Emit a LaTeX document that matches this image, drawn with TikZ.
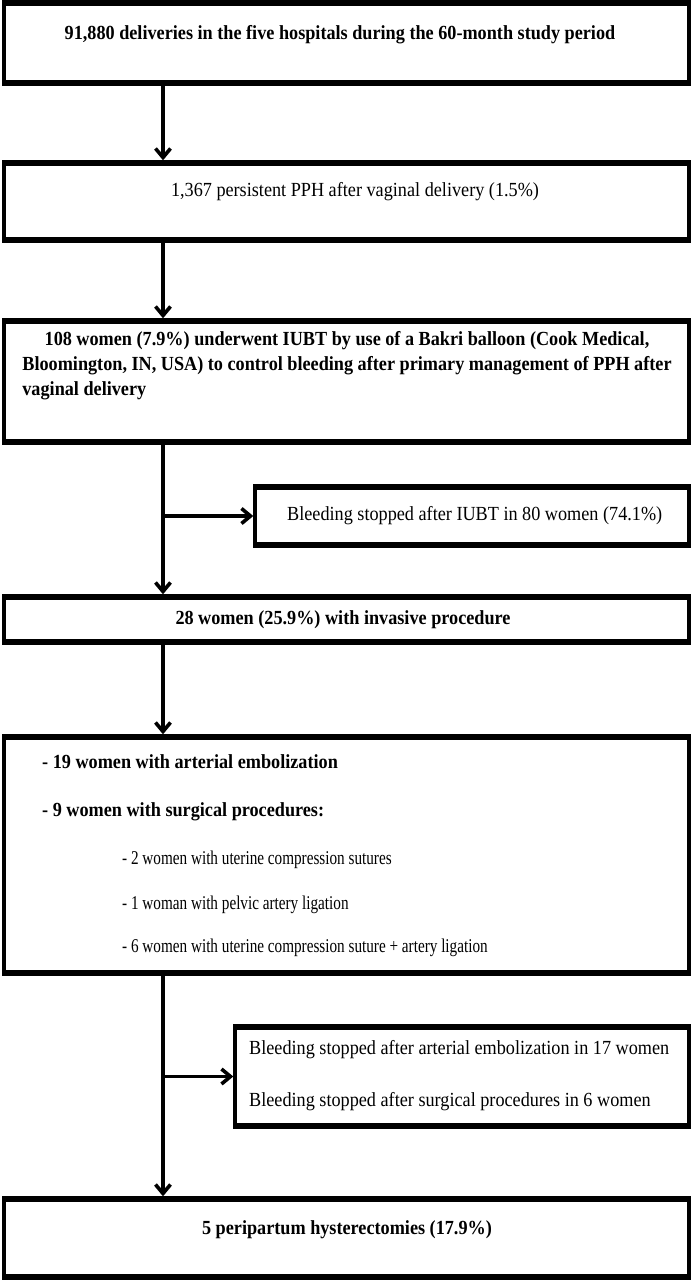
\documentclass[tikz,border=0pt]{standalone}
\usepackage{fontspec}
\setmainfont{Liberation Serif}[FakeStretch=0.91]
\newfontfamily\subfont{Liberation Serif}[FakeStretch=0.78]
\usetikzlibrary{arrows.meta}
\begin{document}
\begin{tikzpicture}[x=1pt,y=-1pt,
  box/.style={draw, line width=3.4pt, inner sep=0pt, outer sep=0pt, anchor=north west},
  txt/.style={inner sep=0pt, font=\fontsize{20}{25}\selectfont},
  txtb/.style={inner sep=0pt, font=\fontsize{20}{25}\selectfont\bfseries},
  txts/.style={inner sep=0pt, anchor=west, font=\subfont\fontsize{19.5}{23}\selectfont},
  conn/.style={line width=3.6pt, -{Straight Barb[length=9pt,width=15pt]}},
  line/.style={line width=3.6pt}]
\useasboundingbox (0,0) rectangle (695,1281);
% boxes
\node[box, minimum width=685pt, minimum height=80pt] (b1) at (4,3) {};
\node[box, minimum width=685pt, minimum height=77pt] (b2) at (4,163) {};
\node[box, minimum width=685pt, minimum height=121pt] (b3) at (4,321) {};
\node[box, minimum width=434pt, minimum height=58pt] (s1) at (255,487) {};
\node[box, minimum width=685pt, minimum height=45pt] (b4) at (4,597) {};
\node[box, minimum width=685pt, minimum height=236pt] (b5) at (4,737) {};
\node[box, minimum width=454pt, minimum height=99pt] (s2) at (235,1027) {};
\node[box, minimum width=685pt, minimum height=78pt] (b6) at (4,1199) {};
% thicker horizontal edges
\foreach \n in {b1,b2,b3,s1,b4,b5,s2,b6}{
  \draw[line width=5.5pt] ([xshift=-1.7pt]\n.north west) -- ([xshift=1.7pt]\n.north east);
  \draw[line width=5.5pt] ([xshift=-1.7pt]\n.south west) -- ([xshift=1.7pt]\n.south east);
}
% texts
\node[txtb] (t1) at (340,35) {91,880 deliveries in the five hospitals during the 60-month study period};
\node[txt] (t2) at (355,192) {1,367 persistent PPH after vaginal delivery (1.5\%)};
\node[txtb] (t3) at (347,365) {\begin{tabular}{@{}c@{}}108 women (7.9\%) underwent IUBT by use of a Bakri balloon (Cook Medical,\\
Bloomington, IN, USA) to control bleeding after primary management of PPH after\\
\multicolumn{1}{@{}l@{}}{vaginal delivery}\end{tabular}};
\node[txt, anchor=west] (ts1) at (287,516) {Bleeding stopped after IUBT in 80 women (74.1\%)};
\node[txtb] (t4) at (343,620) {28 women (25.9\%) with invasive procedure};
\node[txtb, anchor=west] (t5a) at (42,762) {- 19 women with arterial embolization};
\node[txtb, anchor=west] (t5b) at (42,812) {- 9 women with surgical procedures:};
\node[txts] (t5c) at (122,860) {- 2 women with uterine compression sutures};
\node[txts] (t5d) at (122,905) {- 1 woman with pelvic artery ligation};
\node[txts] (t5e) at (122,948) {- 6 women with uterine compression suture + artery ligation};
\node[txt, anchor=west] (ts2a) at (249,1050) {Bleeding stopped after arterial embolization in 17 women};
\node[txt, anchor=west] (ts2b) at (249,1102) {Bleeding stopped after surgical procedures in 6 women};
\node[txtb] (t6) at (347,1230) {5 peripartum hysterectomies (17.9\%)};
% connectors
\coordinate (m) at (163,0);
\draw[conn, shorten >=2.7pt] (b1.south -| m) -- (b2.north -| m);
\draw[conn, shorten >=2.7pt] (b2.south -| m) -- (b3.north -| m);
\draw[conn, shorten >=2.7pt] (b3.south -| m) -- (b4.north -| m);
\draw[conn, shorten >=1.7pt] (m |- s1.west) -- (s1.west);
\draw[conn, shorten >=2.7pt] (b4.south -| m) -- (b5.north -| m);
\draw[conn, shorten >=2.7pt] (b5.south -| m) -- (b6.north -| m);
\draw[conn, shorten >=1.7pt] (m |- s2.west) -- (s2.west);
\end{tikzpicture}
\end{document}
